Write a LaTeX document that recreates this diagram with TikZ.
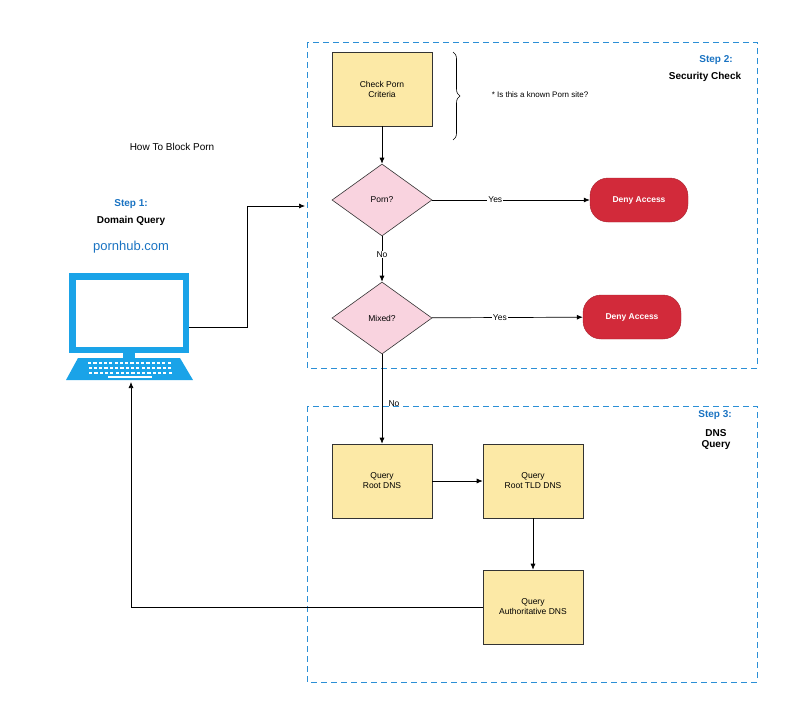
\documentclass[tikz,border=0pt]{standalone}
\usepackage{fontspec}
\setmainfont{Liberation Sans}
\usetikzlibrary{shapes.geometric,arrows.meta,decorations.pathreplacing}
\definecolor{dblue}{HTML}{2B8FD6}
\definecolor{sblue}{HTML}{1A73C2}
\definecolor{lblue}{HTML}{1AA3E8}
\definecolor{byel}{HTML}{FCE9A6}
\definecolor{dpink}{HTML}{F9D3DF}
\definecolor{dred}{HTML}{D22A3A}
\begin{document}
\begin{tikzpicture}[x=1pt,y=-1pt,
  zone/.style={draw=dblue,dash pattern=on 6pt off 4pt,line width=0.9pt},
  box/.style={draw=black!80,fill=byel,minimum width=100pt,minimum height=74pt,align=center,font=\fontsize{8.5}{10}\selectfont,line width=0.6pt},
  dia/.style={diamond,draw=black!80,fill=dpink,minimum width=100pt,minimum height=72pt,aspect=1.39,inner sep=0pt,font=\fontsize{8.5}{10}\selectfont,line width=0.6pt},
  deny/.style={rounded corners=18pt,fill=dred,draw=dred!80!black,text=white,font=\bfseries\fontsize{8.5}{10}\selectfont,minimum width=98pt,minimum height=44pt},
  arr/.style={-{Latex[length=6pt,width=5pt]},line width=0.7pt},
  lbl/.style={fill=white,inner sep=1pt,font=\fontsize{8.5}{10}\selectfont},
  steplbl/.style={font=\bfseries\fontsize{10}{12}\selectfont,text=sblue},
  stepb/.style={font=\bfseries\fontsize{10}{12}\selectfont,align=center}]
\useasboundingbox (0,0) rectangle (800,707);
\draw[zone] (307,42) rectangle (757,368);
\draw[zone] (307,406) rectangle (757,682);
\node[steplbl] (s2) at (716,60) {Step 2:};
\node[stepb] (s2b) at (705,77) {Security Check};
\node[steplbl] (s3) at (715,415) {Step 3:};
\node[stepb] (s3b) at (716,440) {DNS\\[-1pt]Query};
\node[steplbl] (s1) at (131,204) {Step 1:};
\node[stepb] (s1b) at (131,221) {Domain Query};
\node[font=\fontsize{13}{15}\selectfont,text=sblue] (url) at (131,247) {pornhub.com};
\node[font=\fontsize{10}{12}\selectfont] (title) at (172,147) {How To Block Porn};
\node[box] (check) at (382,89) {Check Porn\\Criteria};
\draw[decorate,decoration={brace,amplitude=7pt},line width=0.6pt] (453,52) -- (453,140);
\node[font=\fontsize{8}{10}\selectfont] (note) at (540,95) {* Is this a known Porn site?};
\node[dia] (porn) at (382,200) {Porn?};
\node[dia] (mixed) at (382,318) {Mixed?};
\node[deny] (d1) at (639,200) {Deny Access};
\node[deny] (d2) at (632,317) {Deny Access};
\node[box] (root) at (382,481) {Query\\Root DNS};
\node[box] (tld) at (533,481) {Query\\Root TLD DNS};
\node[box] (auth) at (533,607) {Query\\Authoritative DNS};
% laptop
\fill[lblue] (69,273) rectangle (189,353);
\fill[white] (76,280) rectangle (183,347);
\fill[lblue] (123,353) rectangle (135,358);
\fill[lblue] (78,358) -- (180,358) -- (193,380) -- (66,380) -- cycle;
\foreach \r/\y in {0/362,1/367,2/372}{
  \foreach \i in {0,...,15}{\fill[white] (88+\i*5.3+\r*0.5,\y) rectangle +(3.2,2.4);}}
\fill[white] (108,376) rectangle (152,378);
\coordinate (lapR) at (189,327);
\coordinate (lapB) at (131,382);
\coordinate (zoneIn) at (305,206);
\draw[arr] (lapR) -- (247,327) -- (247,206) -- (zoneIn);
\draw[arr] (auth.west) -- (131,607) -- (lapB);
\draw[arr] (check) -- (porn);
\draw[arr] (porn) -- node[lbl,pos=0.4]{Yes} (d1);
\draw[arr] (porn) -- node[lbl,pos=0.4]{No} (mixed);
\draw[arr] (mixed) -- node[lbl,pos=0.45]{Yes} (d2);
\draw[arr] (mixed) -- node[lbl,pos=0.55,xshift=12pt,fill=none]{No} (root);
\draw[arr] (root) -- (tld);
\draw[arr] (tld) -- (auth);
\end{tikzpicture}
\end{document}
